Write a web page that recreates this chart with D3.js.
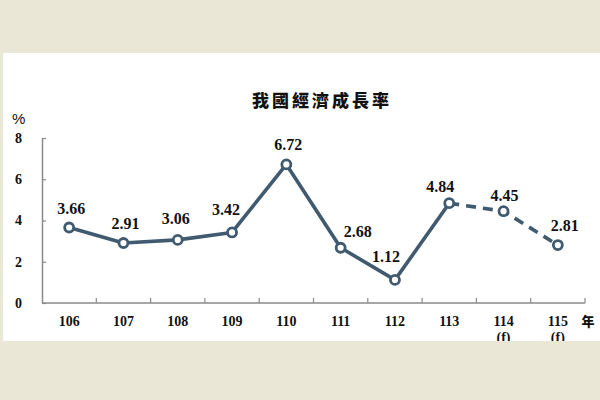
<!DOCTYPE html>
<html><head><meta charset="utf-8">
<script src="https://cdn.jsdelivr.net/npm/d3@7"></script>
<style>html,body{margin:0;padding:0;background:#ebe7d7;}</style>
</head><body>
<svg id="c" width="600" height="400"></svg>
<script>
const categories = ["106","107","108","109","110","111","112","113","114","115"];
const subLabels = ["","","","","","","","","(f)","(f)"];
const values = [3.66,2.91,3.06,3.42,6.72,2.68,1.12,4.84,4.45,2.81];
const valueLabels = ["3.66","2.91","3.06","3.42","6.72","2.68","1.12","4.84","4.45","2.81"];
const yTicks = [0,2,4,6,8];
const title = "我國經濟成長率";
const yUnit = "%";
const xUnit = "年";
const lastActual = "113";

const svg = d3.select("#c");
svg.append("rect").attr("width",600).attr("height",400).attr("fill","#ebe7d7");
svg.append("defs").append("clipPath").attr("id","panel")
  .append("rect").attr("x",3).attr("y",53).attr("width",597).attr("height",288);
svg.append("rect").attr("x",3).attr("y",53).attr("width",597).attr("height",288).attr("fill","#fff");
const g = svg.append("g").attr("clip-path","url(#panel)");

const x = d3.scaleBand().domain(categories).range([42,585]).padding(0);
const y = d3.scaleLinear().domain([0,8]).range([303,138]);
const cx = c => x(c) + x.bandwidth()/2;
const serif = "'Liberation Serif','Times New Roman',serif";
const cjk = "'Noto Sans CJK TC','Noto Sans CJK SC',sans-serif";
const axisColor = "#8a8a8a";
const lineColor = "#405a70";

// title
g.append("text").attr("x",322).attr("y",107).attr("text-anchor","middle")
  .attr("font-family",cjk).attr("font-weight",900).attr("font-size",17)
  .attr("letter-spacing",3).attr("fill","#111").text(title);
g.append("text").attr("x",12).attr("y",124).attr("font-family","'Liberation Sans',Arial,sans-serif")
  .attr("font-size",15).attr("fill","#111").text(yUnit);

// y axis
const ya = g.append("g").attr("transform","translate(42,0)")
  .call(d3.axisLeft(y).tickValues(yTicks).tickSizeInner(-4).tickSizeOuter(0).tickPadding(20).tickFormat(d3.format("d")));
ya.select(".domain").attr("stroke",axisColor).attr("stroke-width",1.5);
ya.selectAll(".tick line").attr("stroke",axisColor).attr("stroke-width",1.2);
ya.selectAll(".tick text").attr("font-family",serif).attr("font-weight",700).attr("font-size",14).attr("fill","#111");

// x axis
g.append("line").attr("x1",42).attr("x2",585).attr("y1",y(0)).attr("y2",y(0))
  .attr("stroke",axisColor).attr("stroke-width",1.5);
const bounds = categories.map(c => x(c)).concat([x.range()[1]]);
g.selectAll(".xt").data(bounds.slice(1)).enter().append("line")
  .attr("x1",d=>d).attr("x2",d=>d).attr("y1",y(0)).attr("y2",y(0)-5)
  .attr("stroke",axisColor).attr("stroke-width",1.2);
g.selectAll(".xl").data(categories).enter().append("text")
  .attr("x",d=>cx(d)).attr("y",y(0)+23).attr("text-anchor","middle")
  .attr("font-family",serif).attr("font-weight",700).attr("font-size",14).attr("fill","#111").text(d=>d);
g.selectAll(".xs").data(categories).enter().append("text")
  .attr("x",d=>cx(d)).attr("y",y(0)+39).attr("text-anchor","middle")
  .attr("font-family",serif).attr("font-weight",700).attr("font-size",14).attr("fill","#111")
  .text((d,i)=>subLabels[i]);
g.append("text").attr("x",588).attr("y",y(0)+23).attr("text-anchor","middle")
  .attr("font-family",cjk).attr("font-weight",900).attr("font-size",13).attr("fill","#111").text(xUnit);

// lines
const pts = categories.map((c,i)=>({c, v:values[i], i}));
const split = categories.indexOf(lastActual);
const line = d3.line().x(d=>cx(d.c)).y(d=>y(d.v));
g.append("path").datum(pts.slice(0,split+1)).attr("d",line).attr("fill","none")
  .attr("stroke",lineColor).attr("stroke-width",3.6).attr("stroke-linejoin","round");
g.append("path").datum(pts.slice(split)).attr("d",line).attr("fill","none")
  .attr("stroke",lineColor).attr("stroke-width",3.6).attr("stroke-dasharray","10,7");

g.selectAll(".pt").data(pts).enter().append("circle")
  .attr("cx",d=>cx(d.c)).attr("cy",d=>y(d.v)).attr("r",4.5)
  .attr("fill","#fff").attr("stroke",lineColor).attr("stroke-width",2.8);

// value labels (offsets relative to marker)
const ldx = [2,2,-2,-6,2,17,-9,-9,1,7];
const ldy = [-14,-14,-16,-17,-14,-11,-18,-11,-10,-14];
g.selectAll(".vl").data(pts).enter().append("text")
  .attr("x",d=>cx(d.c)+ldx[d.i]).attr("y",d=>y(d.v)+ldy[d.i]).attr("text-anchor","middle")
  .attr("font-family",serif).attr("font-weight",700).attr("font-size",16).attr("fill","#111")
  .text(d=>valueLabels[d.i]);
</script>
</body></html>
